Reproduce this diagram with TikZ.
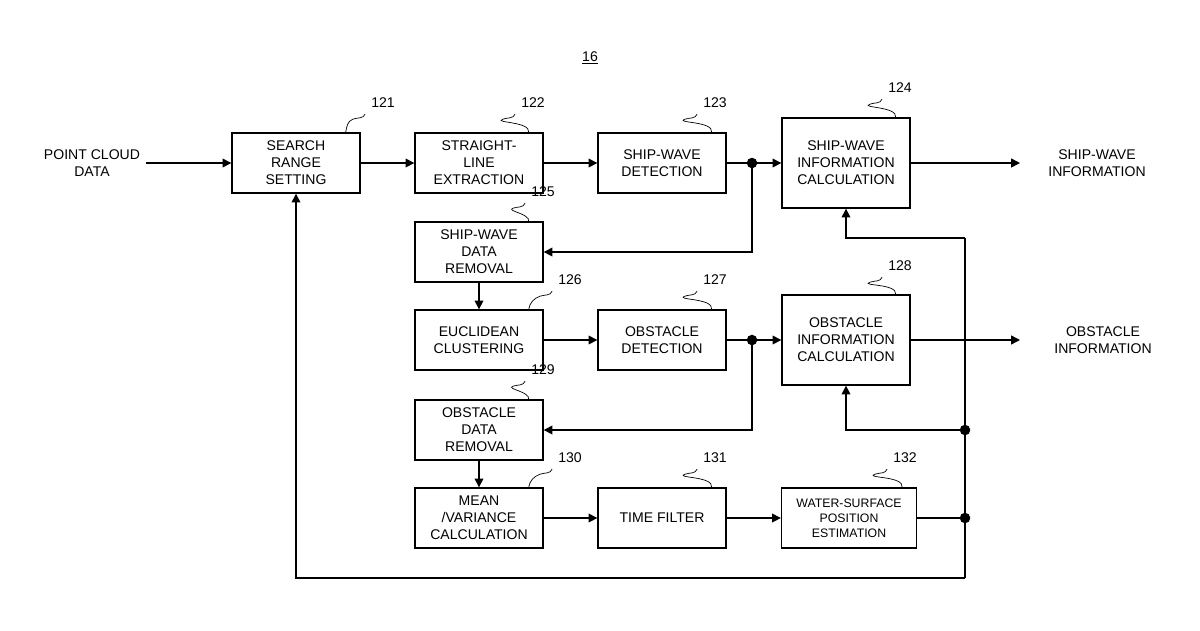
\documentclass[tikz,border=0pt]{standalone}
\usepackage{fontspec}
\setmainfont{Liberation Sans}
\usetikzlibrary{arrows.meta}
\begin{document}
\begin{tikzpicture}[x=0.02cm,y=-0.02cm]
	\tikzstyle{every node}=[font=\fontsize{8}{9.6}\selectfont, align=center]
	\tikzstyle{blk}=[draw, thick, minimum width=2.56cm, minimum height=1.2cm, inner sep=1pt]
	\tikzstyle{arr}=[thick, -{Triangle[length=5pt,width=5pt]}]
	\tikzstyle{dot}=[circle, fill, inner sep=0pt, minimum size=6pt]
	\useasboundingbox (0,0) rectangle (1200,630);
	
	\node at (590,58) {\underline{16}};
	
	\node[blk] (srs) at (296,163) {SEARCH\\RANGE\\SETTING};
	\node[blk] (sle) at (479,163) {STRAIGHT-\\LINE\\EXTRACTION};
	\node[blk] (swd) at (662,163) {SHIP-WAVE\\DETECTION};
	\node[blk, minimum height=1.8cm] (swi) at (846,163) {SHIP-WAVE\\INFORMATION\\CALCULATION};
	\node[blk] (swr) at (479,252) {SHIP-WAVE\\DATA\\REMOVAL};
	\node[blk] (euc) at (479,340) {EUCLIDEAN\\CLUSTERING};
	\node[blk] (obd) at (662,340) {OBSTACLE\\DETECTION};
	\node[blk, minimum height=1.8cm] (obi) at (846,340) {OBSTACLE\\INFORMATION\\CALCULATION};
	\node[blk] (obr) at (479,430) {OBSTACLE\\DATA\\REMOVAL};
	\node[blk] (mvc) at (479,518) {MEAN\\/VARIANCE\\CALCULATION};
	\node[blk] (tf) at (662,518) {TIME FILTER};
	\node[blk, minimum width=2.7cm, font=\fontsize{7}{8.6}\selectfont] (wse) at (849,518) {WATER-SURFACE\\POSITION\\ESTIMATION};
	
	\node (pcd) at (92,163) {POINT CLOUD\\DATA};
	\node (swo) at (1097,163) {SHIP-WAVE\\INFORMATION};
	\node (obo) at (1103,340) {OBSTACLE\\INFORMATION};
	
	% reference numerals
	\foreach \b/\n/\lx/\ly in {srs/121/383/103, sle/122/533/103, swd/123/715/103, swi/124/900/88,
		swr/125/543/192, euc/126/570/280, obd/127/715/280, obi/128/900/266,
		obr/129/543/370, mvc/130/570/458, tf/131/715/458, wse/132/905/458}{
		\node (n\n) at (\lx,\ly) {\n};
		\draw ([xshift=-0.3cm]\b.north east) to[out=80,in=200] ([xshift=-0.6cm,yshift=-0.1cm]n\n.south) to[out=20,in=250] (n\n.south west);
	}
	
	\coordinate (d1) at (752,163);
	\coordinate (d2) at (752,340);
	\coordinate (d3) at (965,430);
	\coordinate (d4) at (965,518);
	\foreach \d in {d1,d2,d3,d4} \node[dot] at (\d) {};
	
	\draw[arr] (pcd.east) -- (srs);
	\draw[arr] (srs) -- (sle);
	\draw[arr] (sle) -- (swd);
	\draw[arr] (swd) -- (swi);
	\draw[arr] (swi) -- (1020,163);
	\draw[arr] (d1) |- (swr);
	\draw[arr] (swr) -- (euc);
	\draw[arr] (euc) -- (obd);
	\draw[arr] (obd) -- (obi);
	\draw[arr] (obi) -- (1020,340);
	\draw[arr] (d2) |- (obr);
	\draw[arr] (obr) -- (mvc);
	\draw[arr] (mvc) -- (tf);
	\draw[arr] (tf) -- (wse);
	\draw[thick] (wse) -- (d4);
	\draw[thick] (965,238) -- (965,578);
	\draw[arr] (965,238) -| (swi.south);
	\draw[arr] (d3) -| (obi.south);
	\draw[arr] (965,578) -| (srs.south);
\end{tikzpicture}
\end{document}
